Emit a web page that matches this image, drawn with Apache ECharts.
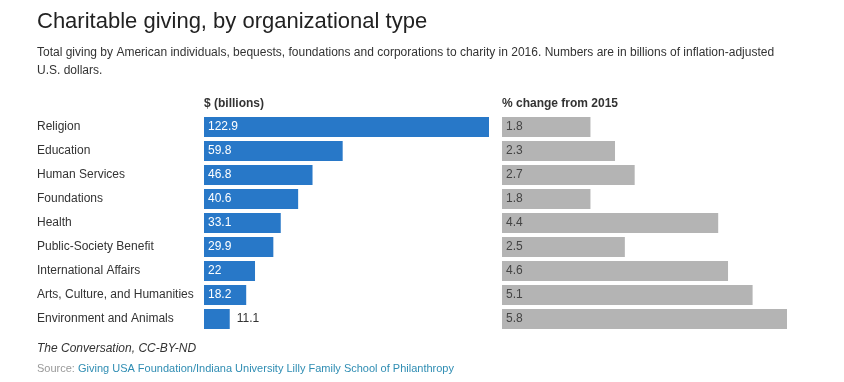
<!DOCTYPE html>
<html>
<head>
<meta charset="utf-8">
<script src="https://cdn.jsdelivr.net/npm/echarts@6/dist/echarts.min.js"></script>
<style>
html,body{margin:0;padding:0;background:#fff;}
#c{width:844px;height:382px;}
</style>
</head>
<body>
<div id="c"></div>
<script>
const categories = ["Religion", "Education", "Human Services", "Foundations", "Health", "Public-Society Benefit", "International Affairs", "Arts, Culture, and Humanities", "Environment and Animals"];
const billions = [122.9, 59.8, 46.8, 40.6, 33.1, 29.9, 22, 18.2, 11.1];
const pctChange = [1.8, 2.3, 2.7, 1.8, 4.4, 2.5, 4.6, 5.1, 5.8];

const FONT = '"Liberation Sans", Arial, Helvetica, sans-serif';
const chart = echarts.init(document.getElementById('c'), null, {renderer: 'canvas'});

const leftData = billions.map(v => ({
  value: v,
  label: v < 15
    ? {position: 'right', color: '#333', distance: 7}
    : {position: 'insideLeft', color: '#fff', distance: 4}
}));

chart.setOption({
  animation: false,
  backgroundColor: '#fff',
  textStyle: {fontFamily: FONT},
  graphic: [
    {type: 'text', left: 37, top: 11, style: {text: 'Charitable giving, by organizational type', font: '22px ' + FONT, fill: '#222'}},
    {type: 'text', left: 37, top: 44, style: {text: 'Total giving by American individuals, bequests, foundations and corporations to charity in 2016. Numbers are in billions of inflation-adjusted\nU.S. dollars.', font: '12px ' + FONT, fill: '#333', lineHeight: 18}},
    {type: 'text', left: 204, top: 98, style: {text: '$ (billions)', font: 'bold 12px ' + FONT, fill: '#333'}},
    {type: 'text', left: 502, top: 98, style: {text: '% change from 2015', font: 'bold 12px ' + FONT, fill: '#333'}},
    {type: 'text', left: 37, top: 343, style: {text: 'The Conversation, CC-BY-ND', font: 'italic 12px ' + FONT, fill: '#333'}},
    {type: 'text', left: 37, top: 363, style: {
      text: '{s|Source: }{l|Giving USA Foundation/Indiana University Lilly Family School of Philanthropy}',
      font: '11px ' + FONT,
      rich: {s: {fill: '#999', font: '11px ' + FONT}, l: {fill: '#2f8db3', font: '11px ' + FONT}}
    }}
  ],
  grid: [
    {left: 204, top: 115, width: 285, height: 216},
    {left: 502, top: 115, width: 285, height: 216}
  ],
  xAxis: [
    {gridIndex: 0, type: 'value', min: 0, max: Math.max(...billions), show: false},
    {gridIndex: 1, type: 'value', min: 0, max: Math.max(...pctChange), show: false}
  ],
  yAxis: [
    {gridIndex: 0, type: 'category', data: categories, inverse: true,
      axisLine: {show: false}, axisTick: {show: false},
      axisLabel: {align: 'left', margin: 167, color: '#333', fontSize: 12, fontFamily: FONT}},
    {gridIndex: 1, type: 'category', data: categories, inverse: true, show: false}
  ],
  series: [
    {type: 'bar', xAxisIndex: 0, yAxisIndex: 0, data: leftData, barWidth: 20,
      itemStyle: {color: '#2878c8'},
      label: {show: true, fontSize: 12, fontFamily: FONT}},
    {type: 'bar', xAxisIndex: 1, yAxisIndex: 1, data: pctChange, barWidth: 20,
      itemStyle: {color: '#b4b4b4'},
      label: {show: true, position: 'insideLeft', distance: 4, color: '#444', fontSize: 12, fontFamily: FONT}}
  ]
});
</script>
</body>
</html>
